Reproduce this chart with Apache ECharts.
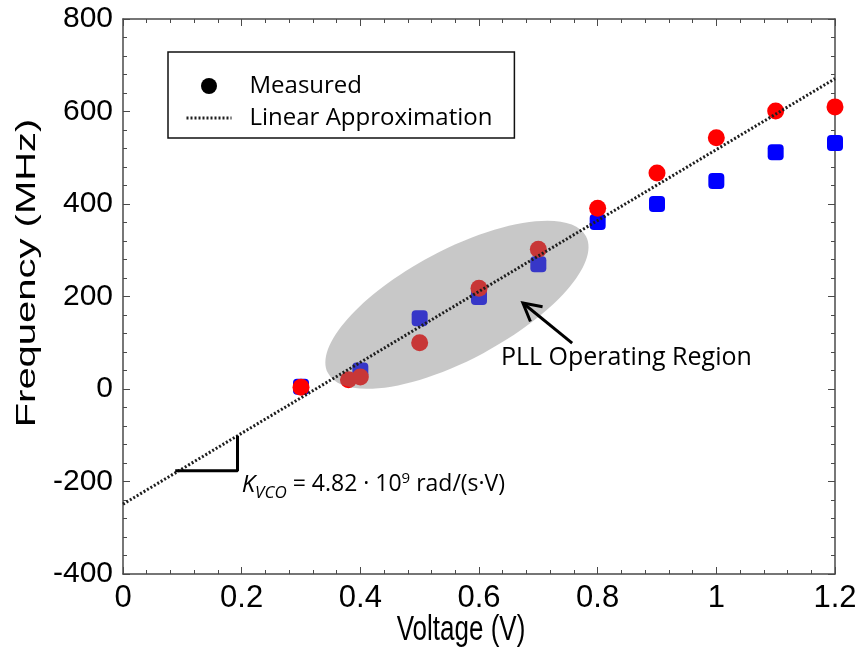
<!DOCTYPE html>
<html>
<head>
<meta charset="utf-8">
<script src="https://cdn.jsdelivr.net/npm/echarts@6/dist/echarts.min.js"></script>
<style>
  html, body { margin: 0; padding: 0; background: #fff; }
  #chart { width: 861px; height: 649px; }
</style>
</head>
<body>
<div id="chart"></div>
<script>
// VCO transfer characteristic: output frequency (MHz) against control voltage (V)
const redVolts  = [0.3, 0.38, 0.4, 0.5, 0.6, 0.7, 0.8, 0.9, 1.0, 1.1, 1.2];
const redFreq   = [4, 20, 26, 100, 218, 302, 391, 467, 543, 601, 610];
const blueVolts = [0.3, 0.4, 0.5, 0.6, 0.7, 0.8, 0.9, 1.0, 1.1, 1.2];
const blueFreq  = [5, 40, 153, 199, 270, 361, 400, 450, 512, 532];

// Straight-line approximation (end points across the voltage range)
const fitVolts = [0, 1.2];
const fitFreq  = [-249, 671];

// Slope marker under the fitted line
const slopeVolts = [0.088, 0.193, 0.193];
const slopeFreq  = [-177, -177, -101];

// Axis ranges and tick spacing
const xRange = [0, 1.2], xStep = 0.2;
const yRange = [-400, 800], yStep = 200;

// Operating-region ellipse (centre in data units) and arrow (data units)
const regionCenter = [0.563, 182];
const arrowTail = [0.757, 99];
const arrowHead = [0.674, 186];

const pairs = (xs, ys) => xs.map((x, i) => [x, ys[i]]);

const axisColor = '#4a4a4a';
const calibriLike = '"Open Sans", "Noto Sans", sans-serif';
const fitLine = { color: '#1e1e1e', width: 3, type: [2, 2] };

function axisBase(extra) {
  return Object.assign({
    type: 'value',
    axisLine: { show: true, onZero: false, lineStyle: { color: axisColor, width: 1.5 } },
    axisTick: { show: true, inside: true, length: 7, lineStyle: { color: axisColor, width: 1 } },
    minorTick: { show: true, splitNumber: 5, length: 4, lineStyle: { color: axisColor, width: 1 } },
    splitLine: { show: false },
    minorSplitLine: { show: false }
  }, extra);
}

const chart = echarts.init(document.getElementById('chart'), null, { renderer: 'canvas' });

chart.setOption({
  animation: false,
  backgroundColor: '#fff',
  grid: { left: 123, right: 26, top: 19, bottom: 75, containLabel: false },
  xAxis: [
    axisBase({
      min: xRange[0], max: xRange[1], interval: xStep, position: 'bottom',
      axisLabel: {
        color: '#000', margin: 9,
        fontFamily: '"Liberation Sans", Arial, sans-serif',
        fontSize: 31
      }
    }),
    axisBase({
      min: xRange[0], max: xRange[1], interval: xStep, position: 'top',
      axisLabel: { show: false }
    })
  ],
  yAxis: [
    axisBase({
      min: yRange[0], max: yRange[1], interval: yStep, position: 'left',
      axisLabel: {
        color: '#000', margin: 10,
        fontFamily: '"Liberation Sans", Arial, sans-serif', fontSize: 30
      }
    }),
    axisBase({
      min: yRange[0], max: yRange[1], interval: yStep, position: 'right',
      axisLabel: { show: false }
    })
  ],
  legend: {
    left: 168, top: 52, orient: 'vertical', selectedMode: false,
    backgroundColor: '#fff',
    borderColor: '#111', borderWidth: 1.5,
    padding: [22, 22, 8, 17],
    itemWidth: 45, itemHeight: 16, itemGap: 8,
    textStyle: { fontFamily: calibriLike, fontSize: 24, color: '#000', padding: [0, 0, 0, 13] },
    data: [
      { name: 'Measured', icon: 'circle', itemStyle: { color: '#000', borderWidth: 0, opacity: 1 } },
      {
        name: 'Linear Approximation',
        itemStyle: { color: 'rgba(0,0,0,0)', borderColor: 'rgba(0,0,0,0)', borderWidth: 0 },
        lineStyle: fitLine
      }
    ]
  },
  series: [
    {
      name: 'Measured', type: 'scatter', z: 2,
      symbol: 'roundRect', symbolSize: 16,
      itemStyle: { color: '#0000ff', opacity: 1 },
      data: pairs(blueVolts, blueFreq)
    },
    {
      name: 'Measured', type: 'scatter', z: 2,
      symbol: 'circle', symbolSize: 17,
      itemStyle: { color: '#ff0000', opacity: 1 },
      data: pairs(redVolts, redFreq)
    },
    {
      name: 'Linear Approximation', type: 'line', z: 6,
      symbol: 'none', silent: true,
      lineStyle: fitLine,
      data: pairs(fitVolts, fitFreq)
    },
    {
      name: 'slope', type: 'line', z: 6,
      symbol: 'none', silent: true,
      lineStyle: { color: '#000', width: 3 },
      data: pairs(slopeVolts, slopeFreq)
    }
  ]
});

// Annotations placed through the axes' own coordinate conversion
const toPx = p => chart.convertToPixel({ xAxisIndex: 0, yAxisIndex: 0 }, p);
const c = toPx(regionCenter);
const tail = toPx(arrowTail);
const head = toPx(arrowHead);
const ang = Math.atan2(head[1] - tail[1], head[0] - tail[0]);
const wing = 20, spread = 0.5;
const w1 = [head[0] - wing * Math.cos(ang - spread), head[1] - wing * Math.sin(ang - spread)];
const w2 = [head[0] - wing * Math.cos(ang + spread), head[1] - wing * Math.sin(ang + spread)];
const kPos = toPx([0.2, -207]);
const pllPos = toPx([0.637, 67]);

chart.setOption({
  graphic: [
    {
      type: 'ellipse', z: 4, silent: true,
      x: c[0], y: c[1], rotation: 28 * Math.PI / 180,
      shape: { cx: 0, cy: 0, rx: 146, ry: 55 },
      style: { fill: 'rgba(128,128,128,0.43)' }
    },
    {
      type: 'line', z: 7, silent: true,
      shape: { x1: tail[0], y1: tail[1], x2: head[0], y2: head[1] },
      style: { stroke: '#000', lineWidth: 3 }
    },
    {
      type: 'polyline', z: 7, silent: true,
      shape: { points: [w1, head, w2] },
      style: { stroke: '#000', lineWidth: 3, fill: null }
    },
    {
      type: 'text', z: 7, silent: true,
      x: pllPos[0], y: pllPos[1],
      style: {
        text: 'PLL Operating Region', fill: '#000',
        font: '25px ' + calibriLike, align: 'left', verticalAlign: 'middle'
      }
    },
    {
      type: 'text', z: 7, silent: true,
      x: kPos[0], y: kPos[1],
      style: {
        text: '{k|K}{s|VCO}{n| = 4.82 · 10}{p|9}{n| rad/(s·V)}',
        fill: '#000', align: 'left', verticalAlign: 'middle',
        rich: {
          k: { fontFamily: calibriLike, fontSize: 24, fontStyle: 'italic', lineHeight: 34, verticalAlign: 'middle' },
          n: { fontFamily: calibriLike, fontSize: 23, lineHeight: 34, verticalAlign: 'middle' },
          s: { fontFamily: calibriLike, fontSize: 17, fontStyle: 'italic', lineHeight: 18, verticalAlign: 'bottom' },
          p: { fontFamily: calibriLike, fontSize: 15, lineHeight: 15, verticalAlign: 'top', padding: [3, 0, 0, 0] }
        }
      }
    },
    {
      type: 'text', silent: true,
      x: 461, y: 630, scaleY: 1.38,
      style: {
        text: 'Voltage (V)', fill: '#000',
        font: '26px "Liberation Sans", Arial, sans-serif',
        align: 'center', verticalAlign: 'middle'
      }
    },
    {
      type: 'text', silent: true,
      x: 28, y: 273, rotation: Math.PI / 2, scaleX: 1.48,
      style: {
        text: 'Frequency (MHz)', fill: '#000',
        font: '27px "Liberation Sans", Arial, sans-serif',
        align: 'center', verticalAlign: 'middle'
      }
    }
  ]
});
</script>
</body>
</html>
